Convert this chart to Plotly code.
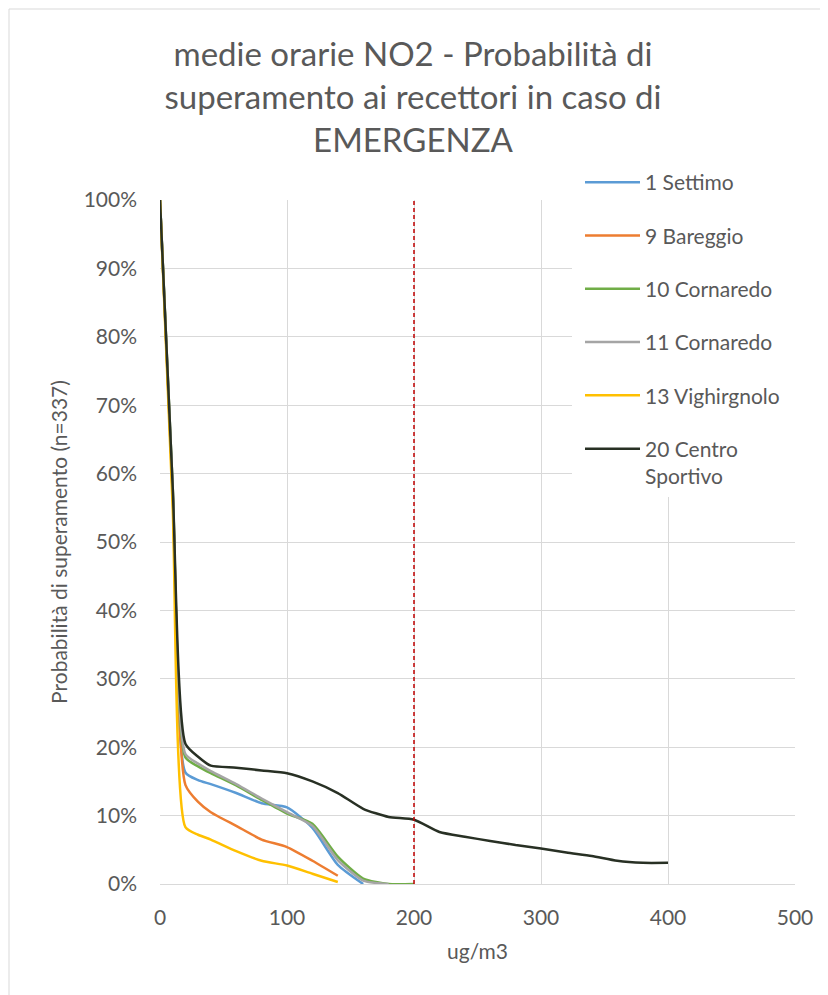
import plotly.graph_objects as go

x_values = [0, 10, 20, 30, 40, 60, 80, 100, 120, 140, 160, 180, 200, 220, 240, 260, 280, 300, 320, 340, 360, 380, 400]

series_names = ["1 Settimo", "9 Bareggio", "10 Cornaredo", "11 Cornaredo", "13 Vighirgnolo", "20 Centro<br>Sportivo"]
settimo = [100, 57, 16.3, 15.2, 14.6, 13.3, 11.8, 11.2, 8.2, 2.8, 0]
bareggio = [100, 57, 14.5, 12.0, 10.5, 8.5, 6.5, 5.4, 3.4, 1.2]
cornaredo10 = [100, 58, 18.5, 17.2, 16.2, 14.4, 12.3, 10.3, 8.8, 4.0, 0.8, 0, 0]
cornaredo11 = [100, 58, 19.0, 17.6, 16.5, 14.6, 12.5, 10.5, 8.5, 3.5, 0.5, 0]
vighirgnolo = [100, 55, 8.3, 7.2, 6.5, 4.8, 3.4, 2.7, 1.5, 0.3]
centro = [100, 58, 20.5, 18.6, 17.3, 17.0, 16.6, 16.2, 15.0, 13.3, 11.0, 9.8, 9.4, 7.6, 6.9, 6.3, 5.7, 5.2, 4.6, 4.1, 3.4, 3.1, 3.1]
series_values = [settimo, bareggio, cornaredo10, cornaredo11, vighirgnolo, centro]
series_colors = ["#5B9BD5", "#ED7D31", "#70AD47", "#A5A5A5", "#FFC000", "#283024"]

limit_x = [200, 200]
limit_y = [0, 100]

x_ticks = [0, 100, 200, 300, 400, 500]
y_ticks = [0, 10, 20, 30, 40, 50, 60, 70, 80, 90, 100]
y_tick_labels = [f"{v}%" for v in y_ticks]

FONT = "Lato"
TXT = "#595959"

fig = go.Figure()
for i, (name, vals, col) in enumerate(zip(series_names, series_values, series_colors)):
    fig.add_trace(go.Scatter(
        x=x_values[:len(vals)], y=vals, name=name, mode="lines",
        line=dict(color=col, width=2.5, shape="spline", smoothing=0.6),
        legendgroup=f"g{i}",
    ))

fig.add_trace(go.Scatter(
    x=limit_x, y=limit_y, mode="lines", showlegend=False,
    line=dict(color="#C00000", width=1.5, dash="4px,3px"),
))

# page offset (browser body margin)
OFF = 8
W, H = 828 - OFF, 995 - OFF
# plot area in page pixels
PL, PR, PT, PB = 160, 795, 200, 884

def px_x(p):
    return (p - PL) / (PR - PL)

def px_y(p):
    return (PB - p) / (PB - PT)

# white legend backdrop that hides the grid behind the legend
fig.add_shape(type="rect", xref="paper", yref="paper",
              x0=px_x(572), x1=px_x(840), y0=px_y(497), y1=px_y(165),
              fillcolor="white", line=dict(width=0), layer="above")
# chart border (left and top)
fig.add_shape(type="line", xref="paper", yref="paper",
              x0=px_x(9), x1=px_x(9), y0=px_y(9), y1=px_y(1000),
              line=dict(color="#D9D9D9", width=1), layer="below")
fig.add_shape(type="line", xref="paper", yref="paper",
              x0=px_x(9), x1=px_x(840), y0=px_y(9), y1=px_y(9),
              line=dict(color="#D9D9D9", width=1), layer="below")

fig.update_layout(
    width=W, height=H,
    margin=dict(l=PL - OFF, r=828 - PR, t=PT - OFF, b=995 - PB),
    paper_bgcolor="white", plot_bgcolor="white",
    font=dict(family=FONT, color=TXT),
    title=dict(
        text="medie orarie NO2 - Probabilità di<br>superamento ai recettori in caso di<br>EMERGENZA",
        x=(413 - OFF) / W, xref="container", xanchor="center",
        y=1 - 58 / H, yref="container", yanchor="top",
        font=dict(family=FONT, size=33, color=TXT),
    ),
    xaxis=dict(
        range=[0, 500], tickvals=x_ticks, showgrid=True, gridcolor="#D9D9D9", gridwidth=1,
        zeroline=False, showline=True, linecolor="#D9D9D9", linewidth=1,
        ticks="", tickfont=dict(family=FONT, size=21, color=TXT), ticklabelstandoff=15,
        title=dict(text="ug/m3", font=dict(family=FONT, size=21, color=TXT), standoff=16),
    ),
    yaxis=dict(
        range=[0, 100], tickvals=y_ticks, ticktext=y_tick_labels, showgrid=True,
        gridcolor="#D9D9D9", gridwidth=1, zeroline=False, showline=False,
        ticks="", tickfont=dict(family=FONT, size=21, color=TXT), ticklabelstandoff=22,
        title=dict(text="Probabilità di superamento (n=337)", font=dict(family=FONT, size=21, color=TXT), standoff=10),
    ),
    legend=dict(
        x=px_x(580), y=px_y(162), xanchor="left", yanchor="top",
        bgcolor="rgba(0,0,0,0)", font=dict(family=FONT, size=21, color=TXT),
        tracegroupgap=23, itemwidth=55, valign="top",
        traceorder="grouped",
    ),
    showlegend=True,
)

fig.write_html("out.html")
